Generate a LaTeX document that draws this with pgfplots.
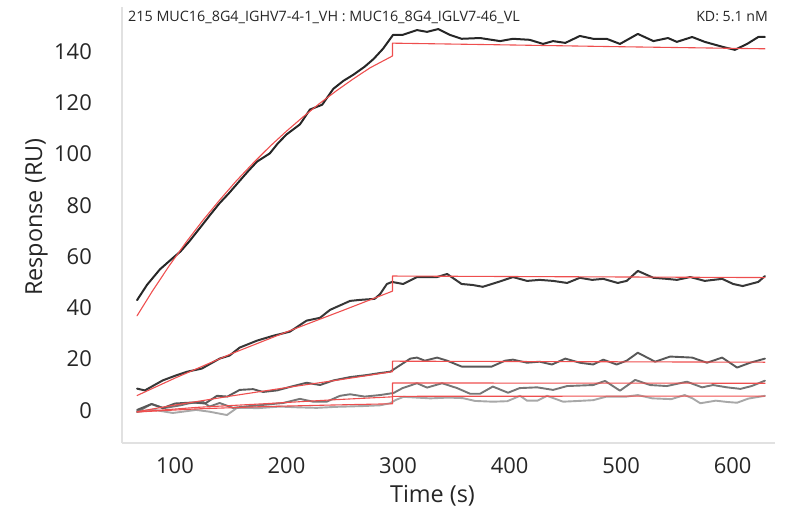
\documentclass[border=0pt]{standalone}
\usepackage{fontspec}
\setmainfont{Open Sans}
\usepackage{pgfplots}
\pgfplotsset{compat=1.18}
\definecolor{fitred}{RGB}{238,78,78}
\definecolor{c1}{RGB}{38,38,38}
\definecolor{c2}{RGB}{55,55,55}
\definecolor{c3}{RGB}{88,88,88}
\definecolor{c4}{RGB}{118,118,118}
\definecolor{c5}{RGB}{168,168,168}
\definecolor{axgray}{RGB}{225,225,225}
\begin{document}
\begin{tikzpicture}[x=1bp,y=1bp]
\useasboundingbox (0,0) rectangle (787,509);
\begin{axis}[
  at={(122bp,66bp)}, anchor=south west,
  scale only axis, width=653bp, height=436bp,
  xmin=52.5, xmax=638, ymin=-12.7, ymax=157.3,
  axis lines=left,
  axis line style={draw=axgray, line width=1.2bp, -},
  major tick length=0pt,
  xtick={100,200,...,600},
  ytick={0,20,...,140},
  /pgf/number format/assume math mode=true,
  tick label style={font=\fontsize{22}{26}\selectfont, text=black!85},
  yticklabel style={inner sep=0pt, anchor=east, xshift=-30bp},
  xticklabel style={inner sep=0pt, anchor=north, yshift=-14bp},
  xlabel={Time (s)},
  ylabel={Response (RU)},
  label style={font=\fontsize{23.5}{28}\selectfont, text=black!85, inner sep=0pt},
  xlabel style={at={(axis description cs:0.4755,-0.1376)}, anchor=base},
  ylabel style={at={(axis description cs:-0.1225,0.518)}, anchor=base},
  clip=false,
  every axis plot/.append style={line join=round, line cap=round},
]
% ---- measured curves ----
\addplot[c5, line width=1.9bp] coordinates {
(66,-0.6)(80,0.3)(98,-1.0)(119,0.2)(131,-0.5)(146.6,-1.8)(155.6,1.0)(175,0.9)(194,1.5)(210,1.2)(227,1.0)(245,1.4)(268.6,1.7)(284,2.0)(293,2.8)(298,4.1)(305,5.3)(317,5.0)(329,4.7)(345,5.0)(358,4.8)(369,3.7)(385,3.4)(398,3.6)(409.4,5.7)(415.7,3.8)(425,3.8)(433.6,5.7)(448,3.4)(462,3.7)(475,4.0)(487,5.4)(505,5.4)(515,6.0)(528,4.7)(545,4.4)(557,6.0)(564,4.7)(571,2.8)(585,3.8)(595,3.3)(604,3.0)(614,4.6)(629,5.7)};
\addplot[c4, line width=1.9bp] coordinates {
(66,-0.6)(79,2.5)(90,0.9)(105,2.0)(113,2.8)(125,3.4)(131,1.5)(140,2.9)(152,1.0)(165,1.6)(180,2.2)(197,2.9)(212,4.5)(224,3.4)(236,3.4)(248,5.7)(257,6.3)(270,5.4)(284,6.0)(296,6.8)(304,8.7)(317,10.6)(326,8.9)(339.5,10.6)(353,8.7)(364.6,6.5)(373.5,6.5)(385,9.3)(398.6,6.9)(409,8.7)(424.7,9.0)(439,8.0)(451.6,9.5)(475,9.9)(485.6,11.5)(499,7.7)(512.6,11.9)(526,9.9)(541,9.5)(559,11.2)(572.6,9.0)(582.5,9.9)(595,9.0)(607,8.4)(617,9.5)(629,11.6)};
\addplot[c3, line width=1.9bp] coordinates {
(66,0.2)(79,2.5)(89,0.9)(100,2.7)(116,3.1)(127,2.7)(137.7,5.7)(147,5.4)(158,8.0)(170,8.3)(179,7.2)(191.5,7.8)(206,9.5)(218,10.8)(230,9.9)(242,11.7)(257,13.0)(272,13.8)(284,14.6)(293,15.1)(300,17.1)(311,20.2)(317,20.6)(324,19.4)(335,20.6)(344,19.4)(357,17.1)(384,17.1)(396,19.4)(403,19.8)(415.7,18.6)(427,19)(438,17.9)(450,20.2)(463,18.6)(475,17.9)(484,19.8)(496,17.9)(505,19.4)(515,22.5)(530.5,19)(544,21)(563.7,20.6)(577,18.6)(590.6,20.6)(604,16.7)(615.7,18.6)(629,20.2)};
\addplot[c2, line width=2bp] coordinates {
(66,8.5)(73,7.8)(89,11.7)(100,13.5)(111,15.1)(124,16.3)(140,20.2)(149,21.4)(158,24.5)(173.5,27.2)(188,29.1)(203,30.7)(218,35)(230,36.1)(239,39.2)(257,42.7)(266,43.1)(279,43.5)(284,45.4)(290,49.3)(294.6,50.1)(304.5,49.3)(317,52)(335,52)(344,53.2)(357,49.3)(367,48.9)(376,48.2)(390,50.1)(403,52)(415.7,50.5)(427,50.9)(439,50.5)(451.6,49.7)(463,51.7)(474,50.9)(484,51.3)(497,49.7)(505,50.5)(515,54.4)(529,51.7)(541,51.3)(550,50.9)(562,52)(575,50.5)(590.6,51.3)(600.5,49.3)(609,48.5)(623,50.1)(629,52.4)};
\addplot[c1, line width=2bp] coordinates {
(66,43)(75,49)(86.5,55)(98,59.4)(105,62)(113,66)(125,72.6)(132,76.5)(140,80.8)(148,84.5)(156,88.5)(165,93)(173.5,97)(185,100.2)(192,104)(200,107.6)(212,111.5)(221,117.3)(232,119.2)(242,125.4)(251,128.5)(260,130.9)(270,134)(278,137)(286.5,141)(295.5,146.4)(304,146.4)(317,148.3)(326,147.6)(336,148.7)(346.6,146.4)(357,144.9)(373.5,145.2)(391.5,144)(403,144.9)(418,144.5)(430,142.9)(439,144)(450,143.3)(463,146)(475,144.9)(487,144.9)(499,142.9)(515,146.8)(529,144)(542,145.2)(550,143.7)(563.7,145.6)(575,143.7)(591.5,141.7)(602,140.6)(613,142.9)(623,145.6)(629,145.6)};
% ---- fitted curves ----
\addplot[fitred, line width=1.1bp] coordinates {
(66,-0.6)(120,0.6)(180,1.5)(240,2.1)(295,2.6)(295,10.7)(629,10.6)};
\addplot[fitred, line width=1.1bp] coordinates {
(66,-0.6)(120,1.2)(180,2.6)(240,4.1)(295,5.3)(295,5.5)(629,5.6)};
\addplot[fitred, line width=1.1bp] coordinates {
(66,-0.5)(100,2.1)(150,5.6)(200,8.9)(250,12.1)(295,15.1)(295,19.2)(629,18.8)};
\addplot[fitred, line width=1.1bp] coordinates {
(66,5.8)(100,12.6)(150,22.0)(200,30.6)(250,38.9)(295,46.5)(295,52.4)(629,51.8)};
\addplot[fitred, line width=1.1bp] coordinates {
(66,36.9)(80,46.7)(95,56.5)(110,65.6)(125,74.1)(140,82.0)(155,89.5)(170,96.4)(185,102.9)(200,108.9)(215,114.5)(230,119.8)(245,124.7)(260,129.3)(275,133.6)(295,138.2)(295,143.2)(400,142.5)(500,141.8)(629,141.0)};
\end{axis}
\node[anchor=base west, inner sep=0pt, font=\fontsize{14.4}{17}\selectfont, text=black!85] at (128,487) {215 MUC16\_8G4\_IGHV7-4-1\_VH : MUC16\_8G4\_IGLV7-46\_VL};
\node[anchor=base east, inner sep=0pt, font=\fontsize{14.2}{17}\selectfont, text=black!85] at (768,487) {KD: 5.1 nM};
\end{tikzpicture}
\end{document}
